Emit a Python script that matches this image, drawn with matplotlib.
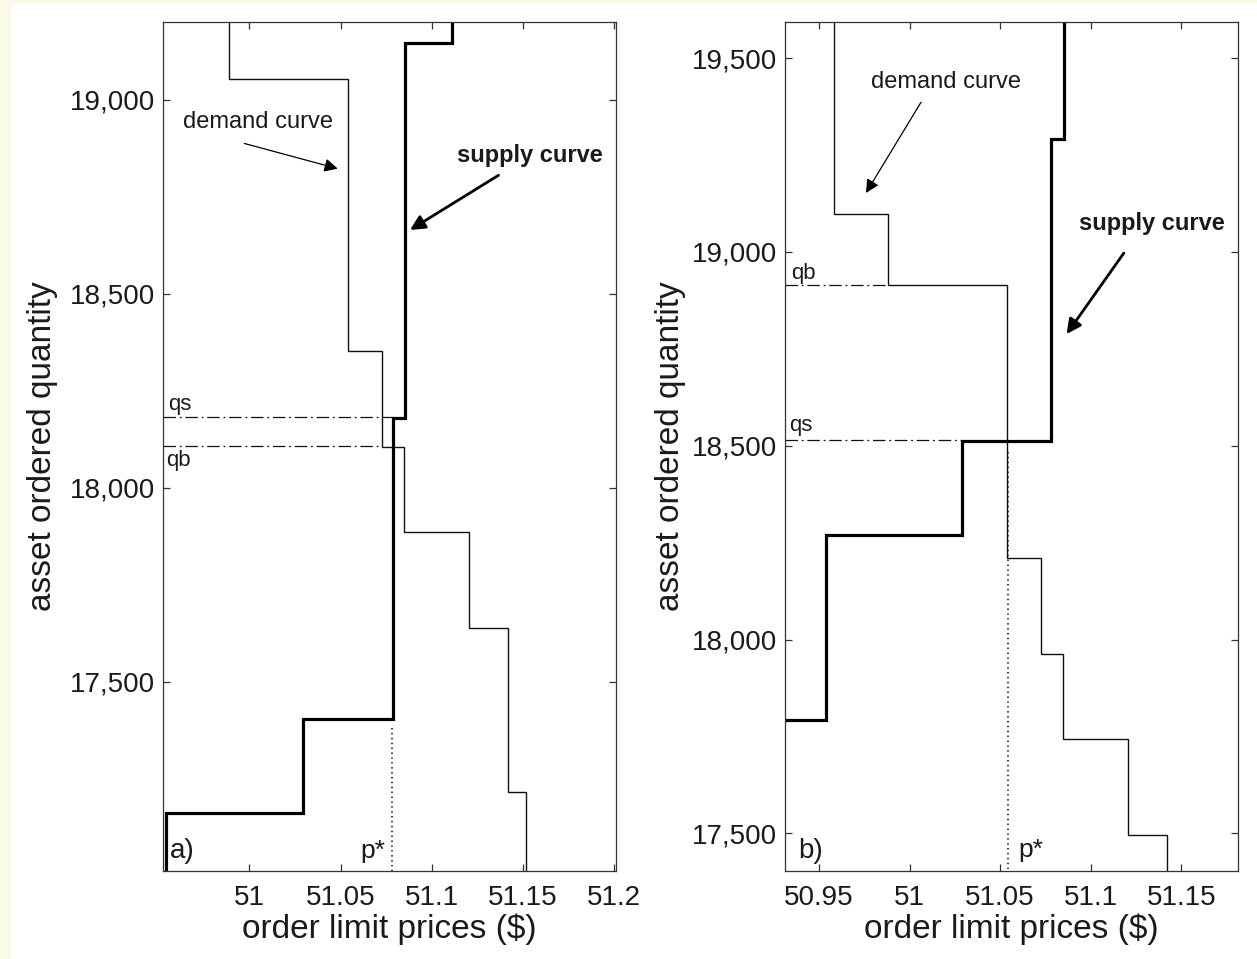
import matplotlib
matplotlib.use('Agg')
import matplotlib.pyplot as plt
from matplotlib.ticker import FuncFormatter
from matplotlib.patches import Rectangle

plt.rcParams['font.family'] = ['Liberation Sans', 'DejaVu Sans']

# ---------------- Panel a data ----------------
demand_a_prices = [50.989, 51.054, 51.073, 51.085, 51.1205, 51.142, 51.1516]
demand_a_breaks = [19054, 18352, 18105, 17885, 17637, 17216]
supply_a_prices = [50.9543, 51.0293, 51.0786, 51.0854, 51.1113]
supply_a_breaks = [17161, 17403, 18179, 19146]
qs_a = 18182
qb_a = 18107
pstar_a = 51.078
pstar_a_top = 17380
xlim_a = (50.9527, 51.201)
ylim_a = (17012, 19200)
xticks_a = [51, 51.05, 51.1, 51.15, 51.2]
xticklabels_a = ['51', '51.05', '51.1', '51.15', '51.2']
yticks_a = [17500, 18000, 18500, 19000]

# ---------------- Panel b data ----------------
demand_b_prices = [50.9584, 50.9883, 51.0536, 51.0724, 51.0848, 51.1204, 51.1423]
demand_b_breaks = [19099, 18914, 18211, 17964, 17743, 17496]
supply_b_prices = [50.90, 50.9539, 51.0288, 51.078, 51.0852]
supply_b_breaks = [17792, 18271, 18512, 19290]
qs_b = 18514
qb_b = 18914
pstar_b = 51.0542
pstar_b_top = 18484
xlim_b = (50.9312, 51.1815)
ylim_b = (17403, 19593)
xticks_b = [50.95, 51, 51.05, 51.1, 51.15]
xticklabels_b = ['50.95', '51', '51.05', '51.1', '51.15']
yticks_b = [17500, 18000, 18500, 19000, 19500]

TXT = '#1a1a1a'
LINE = '#111111'


def demand_path(prices, breaks, top, bottom):
    xs, ys = [prices[0]], [top]
    for i, b in enumerate(breaks):
        xs += [prices[i], prices[i + 1]]
        ys += [b, b]
    xs.append(prices[-1])
    ys.append(bottom)
    return xs, ys


def supply_path(prices, breaks, top, bottom):
    xs, ys = [prices[0]], [bottom]
    for i, b in enumerate(breaks):
        xs += [prices[i], prices[i + 1]]
        ys += [b, b]
    xs.append(prices[-1])
    ys.append(top)
    return xs, ys


fig = plt.figure(figsize=(12.57, 9.59), dpi=100)
fig.patch.set_facecolor('#FAFAE6')
fig.add_artist(Rectangle((11 / 1257, 0), 1 - 11 / 1257, 1 - 4 / 959,
                         transform=fig.transFigure, facecolor='white',
                         edgecolor='none', zorder=-10))

ax_a = fig.add_axes([163 / 1257, 1 - 871 / 959, 453 / 1257, 849 / 959])
ax_b = fig.add_axes([785 / 1257, 1 - 871 / 959, 453.3 / 1257, 849 / 959])

fmt = FuncFormatter(lambda v, p: f'{v:,.0f}')


def style(ax, xlim, ylim, xticks, xticklabels, yticks):
    ax.set_xlim(*xlim)
    ax.set_ylim(*ylim)
    ax.set_xticks(xticks)
    ax.set_xticklabels(xticklabels)
    ax.set_yticks(yticks)
    ax.yaxis.set_major_formatter(fmt)
    ax.tick_params(direction='in', top=True, right=True, length=5, width=0.9,
                   colors='#333333', labelcolor=TXT, labelsize=20)
    ax.tick_params(axis='x', pad=10)
    ax.tick_params(axis='y', pad=6)
    for s in ax.spines.values():
        s.set_color('#333333')
        s.set_linewidth(0.9)
    ax.set_xlabel('order limit prices ($)', fontsize=24, color=TXT, labelpad=2)
    ax.set_ylabel('asset ordered quantity', fontsize=24, color=TXT)


# ---- panel a ----
ax = ax_a
style(ax, xlim_a, ylim_a, xticks_a, xticklabels_a, yticks_a)
dx, dy = demand_path(demand_a_prices, demand_a_breaks, ylim_a[1], ylim_a[0])
ax.plot(dx, dy, color=LINE, lw=1.0, solid_joinstyle='miter')
sx, sy = supply_path(supply_a_prices, supply_a_breaks, ylim_a[1], ylim_a[0])
ax.plot(sx, sy, color='black', lw=2.3, solid_joinstyle='miter')
ax.plot([xlim_a[0], supply_a_prices[2]], [qs_a, qs_a], color=LINE, lw=0.9,
        dashes=(10, 3, 1.5, 3))
ax.plot([xlim_a[0], demand_a_prices[2]], [qb_a, qb_a], color=LINE, lw=0.9,
        dashes=(10, 3, 1.5, 3))
ax.plot([pstar_a, pstar_a], [pstar_a_top, ylim_a[0]], color=LINE, lw=1.1,
        linestyle=(0, (1, 2.2)))
ax.text(50.9555, 18213, 'qs', fontsize=16, color=TXT, ha='left', va='center')
ax.text(50.9543, 18071, 'qb', fontsize=16, color=TXT, ha='left', va='center')
ax.text(51.0743, 17064, 'p*', fontsize=19, color=TXT, ha='right', va='center')
ax.text(50.9567, 17064, 'a)', fontsize=20, color=TXT, ha='left', va='center')
ax.text(51.0049, 18941, 'demand curve', fontsize=17, color=TXT, ha='center', va='center')
ax.annotate('', xy=(51.0485, 18822), xytext=(50.9973, 18887),
            arrowprops=dict(arrowstyle='-|>', color='black', lw=0.9,
                            mutation_scale=20, shrinkA=0, shrinkB=0))
ax.text(51.1538, 18857, 'supply curve', fontsize=17, fontweight='bold', color=TXT,
        ha='center', va='center')
ax.annotate('', xy=(51.0881, 18664), xytext=(51.1366, 18805),
            arrowprops=dict(arrowstyle='-|>', color='black', lw=2.0,
                            mutation_scale=22, shrinkA=0, shrinkB=0))

# ---- panel b ----
ax = ax_b
style(ax, xlim_b, ylim_b, xticks_b, xticklabels_b, yticks_b)
dx, dy = demand_path(demand_b_prices, demand_b_breaks, ylim_b[1], ylim_b[0])
ax.plot(dx, dy, color=LINE, lw=1.0, solid_joinstyle='miter')
sx, sy = supply_path(supply_b_prices, supply_b_breaks, ylim_b[1], ylim_b[0])
ax.plot(sx, sy, color='black', lw=2.3, solid_joinstyle='miter')
ax.plot([xlim_b[0], supply_b_prices[2]], [qs_b, qs_b], color=LINE, lw=0.9,
        dashes=(10, 3, 1.5, 3))
ax.plot([xlim_b[0], demand_b_prices[1]], [qb_b, qb_b], color=LINE, lw=0.9,
        dashes=(10, 3, 1.5, 3))
ax.plot([pstar_b, pstar_b], [pstar_b_top, ylim_b[0]], color=LINE, lw=1.1,
        linestyle=(0, (1, 2.2)))
ax.text(50.9336, 18551, 'qs', fontsize=16, color=TXT, ha='left', va='center')
ax.text(50.9344, 18945, 'qb', fontsize=16, color=TXT, ha='left', va='center')
ax.text(51.0600, 17456, 'p*', fontsize=19, color=TXT, ha='left', va='center')
ax.text(50.9386, 17454, 'b)', fontsize=20, color=TXT, ha='left', va='center')
ax.text(51.0202, 19438, 'demand curve', fontsize=17, color=TXT, ha='center', va='center')
ax.annotate('', xy=(50.9759, 19152), xytext=(51.0063, 19386),
            arrowprops=dict(arrowstyle='-|>', color='black', lw=0.9,
                            mutation_scale=20, shrinkA=0, shrinkB=0))
ax.text(51.1339, 19074, 'supply curve', fontsize=17, fontweight='bold', color=TXT,
        ha='center', va='center')
ax.annotate('', xy=(51.0867, 18788), xytext=(51.1183, 18997),
            arrowprops=dict(arrowstyle='-|>', color='black', lw=2.0,
                            mutation_scale=22, shrinkA=0, shrinkB=0))

ax_a.yaxis.set_label_coords((58 - 163) / 453, 0.5)
ax_b.yaxis.set_label_coords((686 - 785) / 453.3, 0.5)

fig.savefig('out.png', dpi=100, facecolor=fig.get_facecolor())
